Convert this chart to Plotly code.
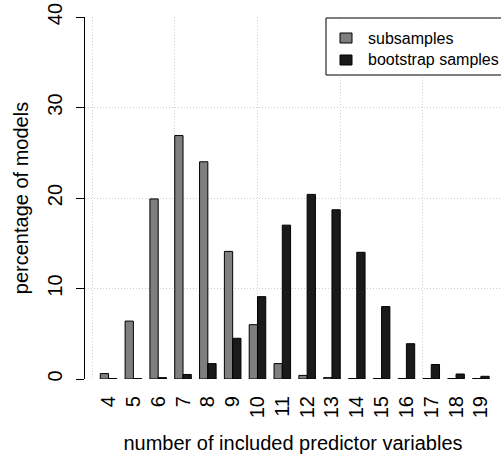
import plotly.graph_objects as go

# ---- data ----
n_predictors = [str(v) for v in range(4, 20)]
subsamples = [0.6, 6.4, 19.9, 26.9, 24.0, 14.1, 6.0, 1.7, 0.4, 0.15, 0.05, 0.05, 0.05, 0.05, 0.05, 0.05]
bootstrap = [0.05, 0.05, 0.15, 0.5, 1.7, 4.5, 9.1, 17.0, 20.4, 18.7, 14.0, 8.0, 3.9, 1.6, 0.55, 0.3]
series_names = ["subsamples", "bootstrap samples"]
series_colors = ["#7f7f7f", "#1a1a1a"]
y_ticks = [0, 10, 20, 30, 40]

FONT = "Liberation Sans, Arial, sans-serif"

# R barplot coordinate system (each group = 1 space + 2 bars) -> category coordinates
r_left, r_right = -0.846, 49.43
cat_range = [(r_left - 2) / 3, (r_right - 2) / 3]

fig = go.Figure()
for name, vals, col in zip(series_names, [subsamples, bootstrap], series_colors):
    fig.add_trace(go.Bar(
        x=n_predictors, y=vals, name=name,
        marker=dict(color=col, line=dict(color="black", width=1)),
        showlegend=False,
    ))

GRID = "#cfcfcf"
DASH = "1px,2px"

fig.update_layout(
    width=501, height=455,
    margin=dict(l=85, r=0, t=17, b=76, autoexpand=False),
    paper_bgcolor="white", plot_bgcolor="white",
    barmode="group", bargap=1/3, bargroupgap=0,
    font=dict(family=FONT, size=20, color="black"),
    xaxis=dict(
        type="category", range=cat_range, showgrid=False, showline=False,
        zeroline=False, ticks="", tickangle=-90, ticklabelstandoff=12,
        tickfont=dict(size=20), automargin=False,
        title=dict(text="number of included predictor variables", standoff=18,
                   font=dict(size=20)),
    ),
    xaxis2=dict(
        overlaying="x", anchor="y", range=[r_left, r_right], tick0=0, dtick=10,
        showgrid=True, gridcolor=GRID, griddash=DASH, gridwidth=1,
        showticklabels=False, ticks="", showline=False, zeroline=False,
        automargin=False,
    ),
    yaxis=dict(
        range=[0, 40], tickvals=y_ticks, showgrid=True, gridcolor=GRID,
        griddash=DASH, gridwidth=1, showline=True, linecolor="black", linewidth=1,
        ticks="outside", ticklen=8, tickcolor="black", tickangle=-90,
        ticklabelstandoff=6,
        zeroline=False, tickfont=dict(size=20), automargin=False,
        title=dict(text="percentage of models", standoff=10, font=dict(size=20)),
    ),
)

# dummy trace so the grid axis is rendered
fig.add_trace(go.Scatter(x=[], y=[], xaxis="x2", yaxis="y", showlegend=False))

# ---- legend (drawn as box + swatches + labels) ----
def px_x(p):
    return (p - 85) / 416.0

def px_y(p):
    return (379 - p) / 362.0

fig.add_shape(type="rect", xref="paper", yref="paper",
              x0=px_x(326), x1=px_x(540), y0=px_y(75), y1=px_y(18),
              line=dict(color="black", width=1), fillcolor="white")
item_y = [38, 60]
for name, col, yc in zip(series_names, series_colors, item_y):
    fig.add_shape(type="rect", xref="paper", yref="paper",
                  x0=px_x(340), x1=px_x(352), y0=px_y(yc + 5), y1=px_y(yc - 5),
                  line=dict(color="black", width=1), fillcolor=col)
    fig.add_annotation(text=name, xref="paper", yref="paper", x=px_x(366), y=px_y(yc),
                       xanchor="left", yanchor="middle", showarrow=False,
                       font=dict(family=FONT, size=16, color="black"))

fig.write_html("out.html", config={"displayModeBar": False},
               post_script="document.body.style.margin='0';")
